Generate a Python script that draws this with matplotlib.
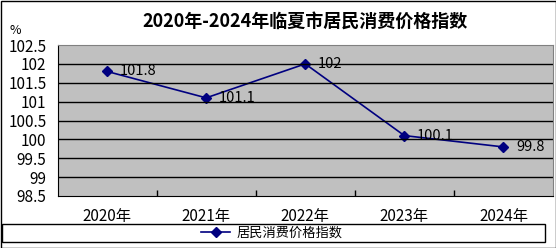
import matplotlib.pyplot as plt
from matplotlib.patches import Rectangle
from matplotlib.lines import Line2D

plt.rcParams['font.family'] = ['Noto Sans CJK SC', 'DejaVu Sans']

years = ['2020年', '2021年', '2022年', '2023年', '2024年']
cpi = [101.8, 101.1, 102.0, 100.1, 99.8]
labels = ['101.8', '101.1', '102', '100.1', '99.8']
y_ticks = [98.5, 99, 99.5, 100, 100.5, 101, 101.5, 102, 102.5]
series_name = '居民消费价格指数'
title = '2020年-2024年临夏市居民消费价格指数'

fig = plt.figure(figsize=(5.56, 2.48), dpi=100)
ax = fig.add_axes([57.5 / 556, 52 / 248, 495.5 / 556, 151 / 248])
ax.set_facecolor('#C0C0C0')

x = list(range(len(years)))
ax.plot(x, cpi, color='#000080', marker='D', markersize=5, linewidth=1.2)
for xi, yi, lab in zip(x, cpi, labels):
    ax.annotate(lab, (xi, yi), xytext=(9, 0), textcoords='offset points',
                va='center', ha='left', fontsize=10.5)

ax.set_xlim(-0.5, 4.5)
ax.set_ylim(98.5, 102.5)
ax.set_yticks(y_ticks)
ax.set_yticklabels([f'{v:g}' for v in y_ticks], fontsize=11)
ax.tick_params(axis='y', length=0, pad=8)
for v in y_ticks[1:-1]:
    ax.axhline(v, color='black', linewidth=1)

# category labels centred, tick marks between categories
ax.set_xticks([0.5, 1.5, 2.5, 3.5])
ax.set_xticklabels([])
ax.tick_params(axis='x', direction='in', length=4, width=1, color='black')
for xi, yr in zip(x, years):
    ax.text(xi, -0.08, yr, transform=ax.get_xaxis_transform(),
            ha='center', va='top', fontsize=11)

ax.spines['top'].set_color('#808080')
ax.spines['right'].set_color('#808080')
ax.spines['left'].set_color('black')
ax.spines['bottom'].set_color('black')

fig.text(305 / 556, 1 - 21 / 248, title, ha='center', va='center',
         fontsize=13, fontweight='bold')
fig.text(15 / 556, 1 - 31 / 248, '%', ha='center', va='center', fontsize=9)

# legend box and outer border
fig.patches.append(Rectangle((2 / 556, 6 / 248), 543 / 556, 18 / 248,
                             transform=fig.transFigure, fill=False,
                             edgecolor='black', linewidth=1))
fig.patches.append(Rectangle((0.5 / 556, 0.5 / 248), 555 / 556, 247 / 248,
                             transform=fig.transFigure, fill=False,
                             edgecolor='black', linewidth=1))
handle = Line2D([], [], color='#000080', marker='D', markersize=5, linewidth=1.2)
fig.legend([handle], [series_name], loc='center', bbox_to_anchor=(272 / 556, 15 / 248),
           frameon=False, fontsize=9.5, handlelength=2.2, handletextpad=0.5,
           borderpad=0)

fig.savefig('out.png', dpi=100)
